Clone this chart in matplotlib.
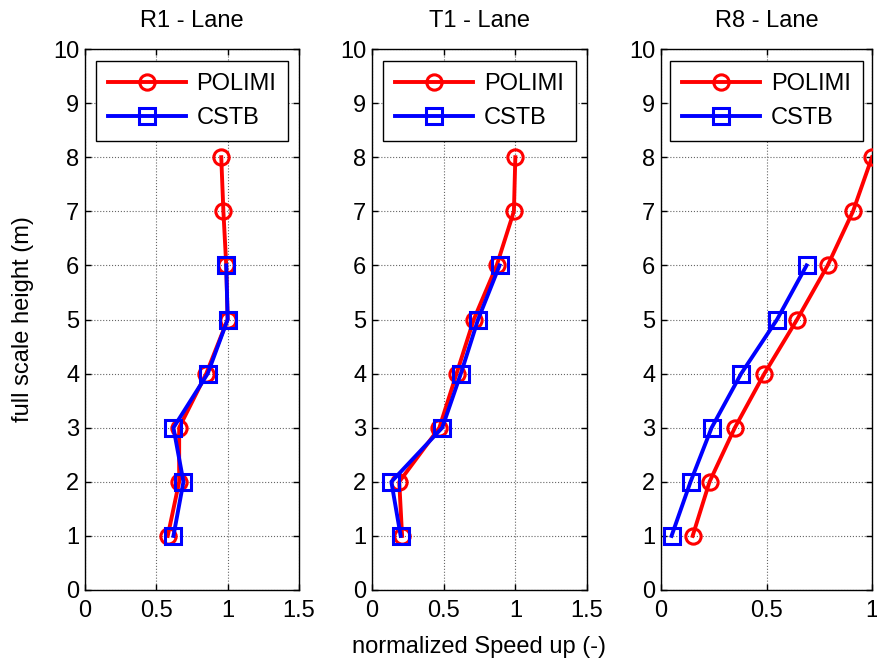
import matplotlib
matplotlib.use("Agg")
import matplotlib.pyplot as plt

plt.rcParams['font.family'] = ['Liberation Sans', 'DejaVu Sans']

heights_polimi = [1, 2, 3, 4, 5, 6, 7, 8]
heights_cstb = [1, 2, 3, 4, 5, 6]

titles = ["R1 - Lane", "T1 - Lane", "R8 - Lane"]

r1_polimi = [0.58, 0.66, 0.66, 0.85, 1.00, 0.99, 0.97, 0.955]
r1_cstb = [0.62, 0.69, 0.62, 0.86, 1.00, 0.99]

t1_polimi = [0.21, 0.19, 0.47, 0.59, 0.71, 0.87, 0.99, 1.00]
t1_cstb = [0.20, 0.135, 0.49, 0.62, 0.74, 0.89]

r8_polimi = [0.15, 0.23, 0.35, 0.49, 0.645, 0.79, 0.91, 1.00]
r8_cstb = [0.05, 0.14, 0.24, 0.38, 0.55, 0.69]

polimi_sets = [r1_polimi, t1_polimi, r8_polimi]
cstb_sets = [r1_cstb, t1_cstb, r8_cstb]
xlims = [1.5, 1.5, 1.0]
xticks_sets = [[0, 0.5, 1, 1.5], [0, 0.5, 1, 1.5], [0, 0.5, 1]]
xticklabels_sets = [["0", "0.5", "1", "1.5"], ["0", "0.5", "1", "1.5"], ["0", "0.5", "1"]]
yticks = list(range(0, 11))

W, H = 877, 660
fig = plt.figure(figsize=(W / 100, H / 100), dpi=100)

lefts = [85, 372, 661]
widths = [214, 215, 211]
top_px, bot_px = 49, 590
fs = 17

for i in range(3):
    ax = fig.add_axes([lefts[i] / W, 1 - bot_px / H, widths[i] / W, (bot_px - top_px) / H])
    ax.plot(polimi_sets[i], heights_polimi, color='#ff0000', lw=2.8, marker='o',
            ms=11, mfc='none', mec='#ff0000', mew=2.2, label='POLIMI', zorder=3)
    ax.plot(cstb_sets[i], heights_cstb, color='#0000ff', lw=2.8, marker='s',
            ms=11.5, mfc='none', mec='#0000ff', mew=2.2, label='CSTB', zorder=4)
    ax.set_xlim(0, xlims[i])
    ax.set_ylim(0, 10)
    ax.set_xticks(xticks_sets[i])
    ax.set_xticklabels(xticklabels_sets[i])
    ax.set_yticks(yticks)
    ax.set_yticklabels([str(v) for v in yticks])
    ax.tick_params(direction='in', top=True, right=True, labelsize=fs, length=4, width=1)
    ax.tick_params(axis='x', pad=7)
    ax.tick_params(axis='y', pad=4)
    ax.grid(True, linestyle=':', color='#666666', linewidth=0.8)
    for s in ax.spines.values():
        s.set_linewidth(1.0)
    ax.set_title(titles[i], fontsize=fs, pad=16)
    for lbl in ax.get_xticklabels():
        lbl.set_clip_on(False)
    leg = ax.legend(loc='upper center', bbox_to_anchor=(0.5, 0.977), fontsize=fs,
                    handlelength=3.3, handletextpad=0.45, borderpad=0.5,
                    labelspacing=0.5, borderaxespad=0.0, fancybox=False,
                    framealpha=1, edgecolor='black')
    leg.get_frame().set_linewidth(1.0)
    if i == 0:
        ax.set_ylabel("full scale height (m)", fontsize=fs, labelpad=14)
    if i == 1:
        ax.set_xlabel("normalized Speed up (-)", fontsize=fs, labelpad=10)

fig.savefig("out.png", dpi=100)
